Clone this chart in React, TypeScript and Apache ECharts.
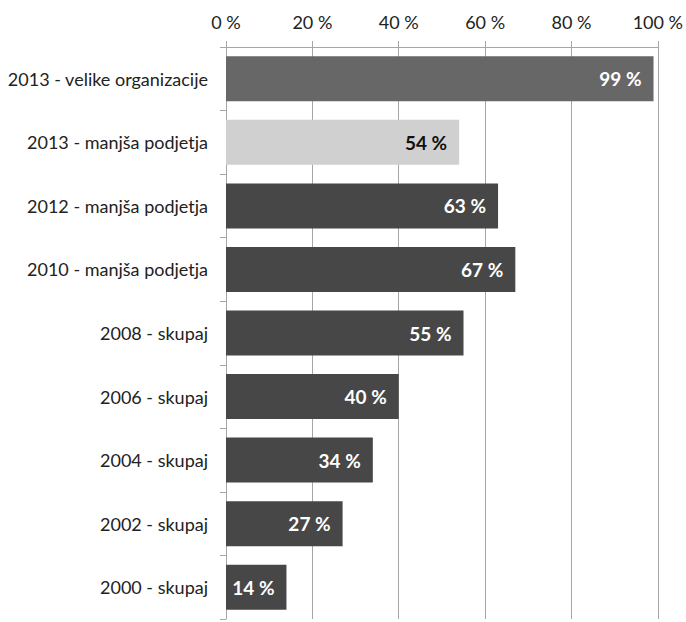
import React, { useEffect, useRef } from "react";
import * as echarts from "echarts";

const categories = [
  "2013 - velike organizacije",
  "2013 - manjša podjetja",
  "2012 - manjša podjetja",
  "2010 - manjša podjetja",
  "2008 - skupaj",
  "2006 - skupaj",
  "2004 - skupaj",
  "2002 - skupaj",
  "2000 - skupaj",
];
const values = [99, 54, 63, 67, 55, 40, 34, 27, 14];
const barColors = ["#676767", "#d0d0d0", "#474747", "#474747", "#474747", "#474747", "#474747", "#474747", "#474747"];
const labelColors = ["#ffffff", "#111111", "#ffffff", "#ffffff", "#ffffff", "#ffffff", "#ffffff", "#ffffff", "#ffffff"];

export default function App() {
  const ref = useRef<HTMLDivElement>(null);
  useEffect(() => {
    if (!ref.current) return;
    const chart = echarts.init(ref.current, undefined, { renderer: "svg" });
    const font = "Lato, 'Open Sans', sans-serif";
    chart.setOption({
      animation: false,
      backgroundColor: "#ffffff",
      grid: { left: 226, right: 27, top: 47, bottom: 3, containLabel: false },
      xAxis: {
        type: "value",
        position: "top",
        min: 0,
        max: 100,
        interval: 20,
        axisLine: { show: true, lineStyle: { color: "#a6a6a6", width: 1 } },
        axisTick: { show: true, length: 6, lineStyle: { color: "#a6a6a6" } },
        splitLine: { show: true, lineStyle: { color: "#a6a6a6", width: 1 } },
        axisLabel: {
          formatter: (v: number) => v + " %",
          color: "#222222",
          fontSize: 18,
          fontFamily: font,
          margin: 16,
        },
      },
      yAxis: {
        type: "category",
        data: categories,
        inverse: true,
        axisLine: { show: true, lineStyle: { color: "#a6a6a6", width: 1 } },
        axisTick: { show: true, length: 6, lineStyle: { color: "#a6a6a6" } },
        axisLabel: {
          color: "#222222",
          fontSize: 18,
          fontFamily: font,
          margin: 18,
        },
      },
      series: [
        {
          type: "bar",
          barWidth: 45,
          data: values.map((v, i) => ({
            value: v,
            itemStyle: { color: barColors[i] },
            label: { color: labelColors[i] },
          })),
          label: {
            show: true,
            position: "insideRight",
            distance: 12,
            formatter: (p: any) => p.value + " %",
            fontSize: 19,
            fontWeight: "bold",
            fontFamily: font,
          },
        },
      ],
    });
    return () => chart.dispose();
  }, []);
  return <div ref={ref} style={{ width: 686, height: 622, position: "absolute", left: 0, top: 0 }} />;
}
